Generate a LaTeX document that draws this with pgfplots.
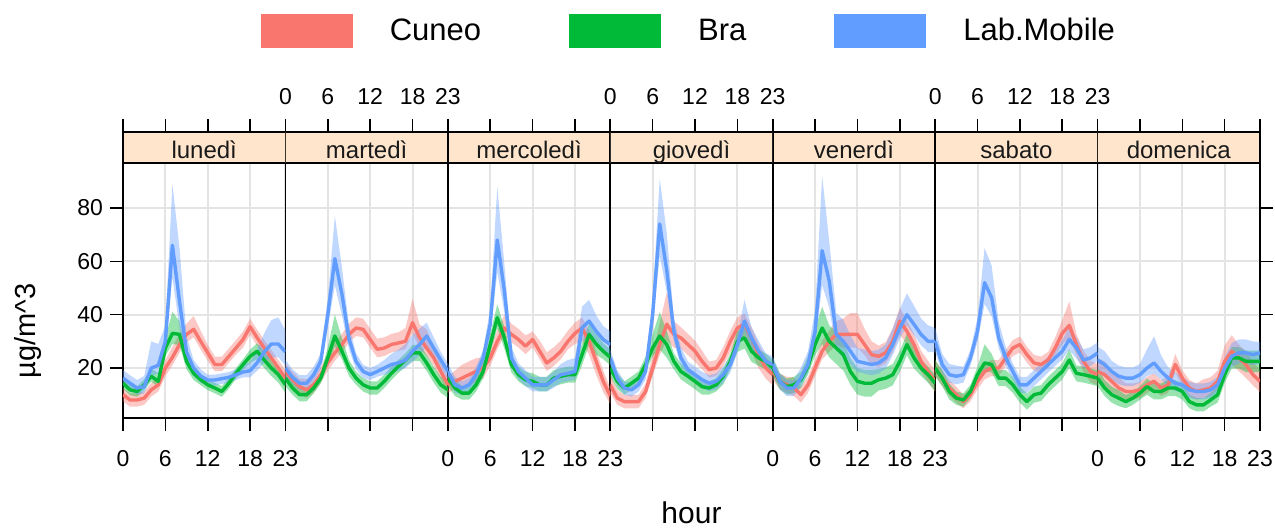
\documentclass[border=0pt]{standalone}
\usepackage{fontspec}
\setmainfont{Liberation Sans}
\usepackage{pgfplots}
\usepackage{pgfplotstable}
\pgfplotsset{compat=1.18}
\usepgfplotslibrary{fillbetween}

\definecolor{cuneo}{HTML}{F8766D}
\definecolor{bra}{HTML}{00BA38}
\definecolor{lab}{HTML}{619CFF}
\definecolor{stripc}{HTML}{FFE5CC}
\definecolor{gridc}{HTML}{E4E4E4}

% columns: hour, Cuneo (value, down, up), Bra (value, down, up), Lab.Mobile (value, down, up)
\pgfplotstableread{
h cv cd cu bv bd bu lv ld lu
0 10 2.5 2.5 14.3 2 2 16.2 2.5 3
1 8 2.5 2.5 11.8 2 2 14.3 2.5 3
2 8 2.5 2.5 11.2 2 2 12.5 2.5 3
3 8.7 2.5 2.5 13.7 2 2 13 2.5 4
4 11.8 2.5 2.5 16.9 2 3 20 3 10
5 13.7 2.5 3 15 2 3 21 3 8
6 20 3 3 27.5 3 4 30 4 6
7 24 3 4 33 4 8 66 12 23
8 28.8 3 4 32.6 4 5 45 10 20
9 32.6 3 4 22.5 3 3 26 4 6
10 34.5 3 5 18 2.5 2.5 20 3 3
11 30 3 4 15.6 2 2 17 2.5 2.5
12 25.7 3 3 13.7 2 2 15.5 2 2
13 21.3 2.5 3 12.5 2 2 15.5 2 2
14 21.3 2.5 3 11.2 2 2 16 2 2
15 24.4 2.5 3 14.3 2 2 16.5 2 2
16 27.5 2.5 3 18 2 2 17.5 2 2
17 30.7 3 3 21.3 2 2 18.5 2 3
18 35.5 3 3 24.4 2.5 2.5 19 2.5 3
19 31.3 3 3 26.3 3 3 22 3 5
20 27.5 3 3 23 3 3 26 4 7
21 23.8 3 3 20 3 3 29 5 9
22 20 3 3 17.5 3 3 29 5 10
23 16.2 3 3 13.7 3 3 26 5 8
}\tabLun

\pgfplotstableread{
h cv cd cu bv bd bu lv ld lu
0 18.7 3 3 16.2 3 3 20 3 3
1 15.6 3 3 12.5 2.5 2.5 16.5 2.5 3
2 13 3 3 10 2.5 2.5 14.3 2.5 3
3 11.8 3 4 10 2.5 2.5 14.3 2.5 3
4 13.7 3 3 12.5 2 2 17.5 2.5 3
5 17.5 3 3 16.2 2 2 22.5 3 3
6 22 3 3 23.8 3 4 40 5 6
7 25.7 3 4 32 4 8 61 10 16
8 28.8 3 4 26.3 3 5 47.7 8 10
9 32.6 3 4 20 3 3 31 4 5
10 35 3 4 16.2 2.5 2.5 22.5 3 3
11 34.5 3 4 13.7 2.5 2.5 18.7 2.5 2.5
12 30.7 3 4 12.5 2.5 2.5 17.5 2 2.5
13 27 3 4 12.5 2.5 2.5 18.7 2 2.5
14 27.5 3 4 15 2.5 2.5 20 2.5 3
15 28.8 3 4 18 2.5 2.5 21.3 3 4
16 29.4 3 4 20.6 2.5 2.5 21.9 3 5
17 30 3 5 23 2.5 2.5 23 3 6
18 37 4 9 25.7 3 3 26.3 4 6
19 31.3 4 5 25.7 3 3 28.8 4 6
20 27.5 3 7 21.9 3 3 32 4 5
21 23.8 3 4 17.5 3 3 27.5 4 4
22 18.7 3 3 13.7 3 3 23 3 3
23 13.7 3 3 11.8 3 3 18.7 3 3
}\tabMar

\pgfplotstableread{
h cv cd cu bv bd bu lv ld lu
0 13.7 3 3 16.2 3 3 18.7 3 3
1 15 3 4 12.5 3 3 13.7 3 3
2 16.2 3 5 10.6 2.5 2.5 12.5 2.5 2.5
3 17.5 4 5 10.6 2.5 2.5 13.7 2.5 2.5
4 18.7 4 5 13.7 2.5 2.5 17.5 2.5 3
5 20 4 4 18.7 2.5 3 23.8 3 3
6 23.8 3 4 28.8 3 4 36.4 4 6
7 30 3 4 38.9 4 5 68 12 20
8 35 3 5 31.3 4 4 49 8 10
9 32.6 3 4 21.3 3 3 23.8 3 4
10 30.7 3 4 17.5 2.5 3 18.7 3 3
11 28.2 3 4 15.6 2.5 3 16.2 3 3
12 30.7 3 3 15 2.5 3 13.7 2.5 3
13 26.3 3 4 13.7 2.5 3 13.7 2.5 3
14 21.9 3 4 13.7 2.5 3 13.7 2.5 3
15 23.8 3 4 16.2 3 3 15.6 3 3
16 26.3 3 4 16.9 3 3 17.5 3 4
17 30 3 4 17.5 3 3 18 3 5
18 33 4 4 17.5 3 3 18.7 3 5
19 35 5 4 25 4 4 35 5 8
20 30 5 4 32.6 4 4 37.6 5 8
21 22.5 5 4 29 4 4 33.8 4 6
22 15 4 4 26.3 3 3 30.7 4 5
23 9.5 3 3 24 3 3 28.8 4 5
}\tabMer

\pgfplotstableread{
h cv cd cu bv bd bu lv ld lu
0 13.7 3 4 20 3 3 23.8 3 3
1 8.7 2.5 3 15 3 3 16.2 3 3
2 7.4 2.5 2.5 12.5 2.5 2.5 12.5 2.5 2.5
3 7.4 2.5 2.5 14.3 2.5 2.5 11.8 2.5 2.5
4 7.4 2.5 2.5 16.2 2.5 2.5 13.7 2.5 2.5
5 11.2 2.5 3 21.3 3 3 18.7 3 3
6 20 3 5 27.5 3 5 40 5 6
7 28.8 4 8 32 5 9 74 12 17
8 36.4 6 12 28.8 5 5 56.5 8 14
9 32.6 5 5 22.5 3 3 33.8 4 5
10 31.3 4 4 18.7 3 3 23.8 3 4
11 28.8 4 4 16.9 3 3 19.4 3 3
12 26.3 4 4 15 3 3 17.5 3 3
13 22.5 3 4 13 3 3 15.6 3 3
14 19.4 3 3 12.5 2.5 2.5 14.3 3 3
15 20 3 3 13.7 2.5 2.5 15 3 3
16 23.8 3 4 16.9 3 3 17.5 3 3
17 30 4 4 22.5 3 3 21.3 3 3
18 35 4 4 30 4 4 28.8 3 3
19 36.4 5 4 31.3 4 4 37.6 4 8
20 31.3 5 4 26.3 4 4 31.3 4 4
21 25 5 4 23.8 3 3 26.3 3 4
22 20 4 4 22.5 3 3 22.5 3 3
23 17.5 4 4 20 3 3 21.3 3 3
}\tabGio

\pgfplotstableread{
h cv cd cu bv bd bu lv ld lu
0 18.7 3 3 20 3 4 21.3 3 3
1 15 3 3 15 3 3 15 3 3
2 13.7 3 3 13 3 3 12.5 3 3
3 12.5 3 4 13.7 3 3 12.5 3 3
4 10 3 3 15.6 3 3 16.2 3 4
5 13.7 3 3 20.6 3 4 21.3 3 5
6 20 3 3 28.8 4 6 33.8 5 8
7 26.3 3 4 35 6 8 64 13 28
8 30 4 4 30 6 6 52.7 10 15
9 32.6 4 5 27.5 6 6 32.6 6 8
10 32.6 5 6 25 6 5 30 6 8
11 32.6 5 8 18.7 5 5 26.3 5 6
12 32.6 5 8 15 5 5 22.5 4 5
13 28.8 4 6 14.3 5 5 21.9 4 5
14 25 4 5 14.3 5 5 21.3 4 5
15 24.4 4 4 15.6 4 4 21.9 4 5
16 25.7 4 4 16.2 4 4 23.8 4 5
17 30 4 5 17.5 4 4 28.8 4 6
18 37.6 5 5 22.5 4 4 35 4 7
19 33.8 5 4 28.8 4 4 40 4 8
20 28.8 5 4 23.8 4 4 36.4 4 7
21 22.5 4 4 20 3 3 32.6 4 6
22 18.7 4 4 17.5 3 3 30 4 6
23 15 4 4 14.3 3 3 30 4 5
}\tabVen

\pgfplotstableread{
h cv cd cu bv bd bu lv ld lu
0 20 3 3 20 3 3 30 4 5
1 16.2 3 3 16.2 3 3 21.3 3 4
2 12.5 3 3 11.2 3 3 17.5 3 4
3 10 3 3 8.7 2.5 2.5 16.9 3 4
4 7.4 2.5 2.5 8 2.5 2.5 17.5 3 3
5 10 2.5 2.5 11.2 2.5 2.5 23.8 3 3
6 15 3 3 17.5 3 3 33.8 4 5
7 18.7 3 3 21.9 3 7 52 8 13
8 20 3 3 21.3 3 4 46.4 7 12
9 20 3 3 16.2 3 3 31.3 4 6
10 23.8 3 3 16.2 3 3 23.8 3 4
11 27.5 3 3 13.7 3 3 18.7 3 3
12 28.8 3 3 10 3 3 13.7 3 3
13 25 3 3 7.4 3 3 13.7 3 3
14 21.9 3 3 10 3 3 16.2 3 3
15 21.3 3 3 10.6 3 3 18.7 3 3
16 23 3 3 13.7 3 3 21.3 3 3
17 27.5 3 4 16.2 3 3 23.8 3 3
18 33 4 5 18.7 3 3 26.3 3 4
19 36 5 9 23 3 4 30.7 4 5
20 28.8 4 4 18 3 3 27.5 4 4
21 22.5 4 4 17.5 3 3 23 3 4
22 18.7 4 4 16.9 3 3 23.8 3 4
23 17.5 4 4 16.2 3 3 25.6 3 4
}\tabSab

\pgfplotstableread{
h cv cd cu bv bd bu lv ld lu
0 18.7 4 5 16.2 3 4 23 4 5
1 17.5 4 5 12.5 3 3 21.3 4 5
2 15 4 4 10 3 3 18.7 3 4
3 12.5 3 4 8.7 3 3 16.9 3 4
4 11.2 3 3 7.4 2.5 2.5 16.2 3 4
5 11.2 3 3 8.7 2.5 2.5 16.2 3 4
6 11.8 3 3 10.6 2.5 2.5 17.5 3 4
7 13.7 3 3 13 3 3 20 3 7
8 15 3 3 11.2 3 3 21.9 4 10
9 12.5 3 3 11.2 3 3 18.7 3 6
10 13.7 3 3 12.5 3 3 16.2 3 4
11 21.3 3 4 12.5 3 3 14.3 3 4
12 16.2 3 3 11.2 3 3 13.7 3 3
13 12.5 3 3 7.4 2.5 2.5 11.8 3 3
14 11.2 3 3 6.2 2.5 2.5 11.2 3 3
15 11.8 3 4 6.2 2.5 2.5 11.2 3 3
16 12.5 3 4 8 2.5 2.5 11.8 3 3
17 15 3 4 10 3 3 13.7 3 3
18 22.5 4 6 17.5 3 4 20 3 4
19 26.3 5 6 23.8 4 4 24.4 4 5
20 23.8 5 5 23.8 4 4 25.7 4 5
21 21.3 5 5 22.5 4 4 25.7 4 5
22 17.5 4 5 22.5 4 4 25 4 5
23 15 4 4 22.5 4 4 25.7 4 4
}\tabDom

\pgfplotsset{
  panel/.style={
    scale only axis, width=81.214pt, height=143pt,
    anchor=south west,
    xmin=0, xmax=23, ymin=1.25, ymax=108.5,
    xtick={0,6,12,18,23}, ytick={20,40,60,80},
    xmajorgrids, ymajorgrids,
    grid style={draw=gridc, line width=1pt},
    axis line style={line width=0.8pt},
    tick align=outside, major tick length=6.5pt,
    every tick/.style={black, line width=0.8pt},
    tick label style={font=\fontsize{11.5}{13}\selectfont},
    /pgf/number format/assume math mode=true,
    xtick pos=both,
  },
  botlab/.style={xticklabel pos=bottom, xticklabel shift=6pt},
  toplab/.style={xticklabel pos=top, xticklabel shift=3.5pt},
  noy/.style={ytick pos=left, ytick style={draw=none}, yticklabels={}},
}

\newcommand{\drawday}[2]{%
  \addplot[draw=none, forget plot, name path=cA] table[x=h, y expr=\thisrow{cv}-\thisrow{cd}]{#1};
  \addplot[draw=none, forget plot, name path=cB] table[x=h, y expr=\thisrow{cv}+\thisrow{cu}]{#1};
  \addplot[fill=cuneo, fill opacity=0.4, draw=none, forget plot] fill between[of=cA and cB];
  \addplot[draw=none, forget plot, name path=bA] table[x=h, y expr=\thisrow{bv}-\thisrow{bd}]{#1};
  \addplot[draw=none, forget plot, name path=bB] table[x=h, y expr=\thisrow{bv}+\thisrow{bu}]{#1};
  \addplot[fill=bra, fill opacity=0.4, draw=none, forget plot] fill between[of=bA and bB];
  \addplot[draw=none, forget plot, name path=lA] table[x=h, y expr=\thisrow{lv}-\thisrow{ld}]{#1};
  \addplot[draw=none, forget plot, name path=lB] table[x=h, y expr=\thisrow{lv}+\thisrow{lu}]{#1};
  \addplot[fill=lab, fill opacity=0.4, draw=none, forget plot] fill between[of=lA and lB];
  \addplot[cuneo, line width=1.7pt, line join=round, forget plot] table[x=h, y=cv]{#1};
  \addplot[bra, line width=1.7pt, line join=round, forget plot] table[x=h, y=bv]{#1};
  \addplot[lab, line width=1.7pt, line join=round, forget plot] table[x=h, y=lv]{#1};
  \fill[stripc, draw=black, line width=0.8pt] (axis cs:0,96.9) rectangle (axis cs:23,108.5);
  \node[font=\fontsize{12}{14}\selectfont, text=black!90, anchor=base] at (axis cs:11.5,98.6) {#2};
}

\begin{document}
\begin{tikzpicture}

\begin{axis}[panel, botlab, at={(0pt,0pt)}, ytick pos=left,
  ylabel={µg/m\textasciicircum 3},
  ylabel style={at={(axis description cs:-0.585,0.304)}, anchor=center, font=\fontsize{14.5}{16}\selectfont},
  legend columns=3,
  legend image code/.code={\fill[#1] (0pt,-8.5pt) rectangle (46pt,8.5pt); \path (62.5pt,0pt);},
  legend style={at={(rel axis cs:3.49,1.353)}, anchor=center, draw=none, fill=none,
    font=\fontsize{15.5}{17}\selectfont,
    /tikz/every even column/.append style={column sep=42pt}},
  ]
  \drawday{\tabLun}{lunedì}
  \addlegendimage{fill=cuneo, draw=none}\addlegendentry{Cuneo}
  \addlegendimage{fill=bra, draw=none}\addlegendentry{Bra}
  \addlegendimage{fill=lab, draw=none}\addlegendentry{Lab.Mobile}
\end{axis}

\begin{axis}[panel, toplab, noy, at={(81.214pt,0pt)}]
  \drawday{\tabMar}{martedì}
\end{axis}

\begin{axis}[panel, botlab, noy, at={(162.428pt,0pt)}]
  \drawday{\tabMer}{mercoledì}
\end{axis}

\begin{axis}[panel, toplab, noy, at={(243.642pt,0pt)},
  xlabel={hour},
  xlabel style={at={(axis description cs:0.5,-0.33)}, anchor=center, font=\fontsize{15}{17}\selectfont}]
  \drawday{\tabGio}{giovedì}
\end{axis}

\begin{axis}[panel, botlab, noy, at={(324.856pt,0pt)}]
  \drawday{\tabVen}{venerdì}
\end{axis}

\begin{axis}[panel, toplab, noy, at={(406.07pt,0pt)}]
  \drawday{\tabSab}{sabato}
\end{axis}

\begin{axis}[panel, botlab, at={(487.284pt,0pt)}, ytick pos=right, yticklabels={}]
  \drawday{\tabDom}{domenica}
\end{axis}

\pgfresetboundingbox
\path[use as bounding box] (-61.5pt,-56.5pt) rectangle (576pt,209pt);
\end{tikzpicture}
\end{document}
